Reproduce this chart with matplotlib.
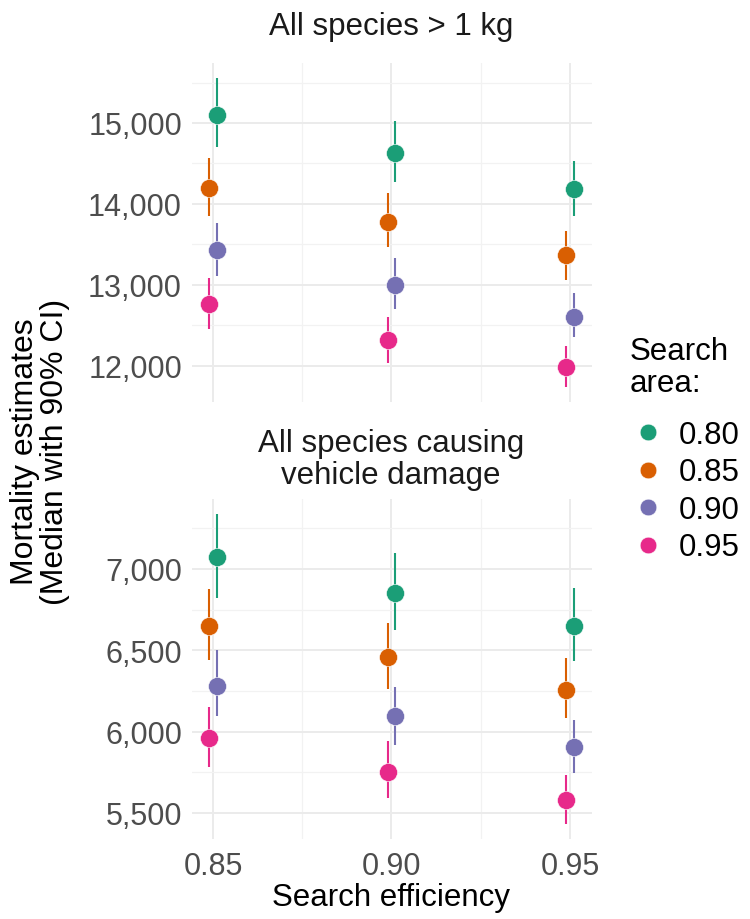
import matplotlib
matplotlib.use("Agg")
import matplotlib.pyplot as plt
from matplotlib.ticker import FuncFormatter, MultipleLocator
from matplotlib.lines import Line2D

plt.rcParams['font.family'] = ['Liberation Sans', 'DejaVu Sans']

efficiency = [0.85, 0.90, 0.95]
areas = ["0.80", "0.85", "0.90", "0.95"]
colors = ["#1B9E77", "#D95F02", "#7570B3", "#E7298A"]
dodge = [0.001, -0.001, 0.001, -0.001]

panel_titles = ["All species > 1 kg", "All species causing\nvehicle damage"]

# panel 1: All species > 1 kg  (rows = search area, cols = efficiency)
p1_med = [[15100, 14625, 14185],
          [14198, 13778, 13367],
          [13432, 13000, 12605],
          [12765, 12321, 11988]]
p1_lo = [[14700, 14268, 13856],
         [13856, 13465, 13065],
         [13115, 12704, 12350],
         [12457, 12033, 11733]]
p1_hi = [[15555, 15025, 14535],
         [14568, 14132, 13670],
         [13762, 13330, 12901],
         [13086, 12605, 12247]]

# panel 2: All species causing vehicle damage
p2_med = [[7072, 6851, 6648],
          [6648, 6459, 6256],
          [6281, 6098, 5904],
          [5963, 5750, 5580]]
p2_lo = [[6822, 6623, 6435],
         [6443, 6263, 6082],
         [6098, 5918, 5746],
         [5785, 5590, 5432]]
p2_hi = [[7338, 7097, 6884],
         [6879, 6668, 6453],
         [6500, 6273, 6072],
         [6150, 5941, 5734]]

W, H = 750, 920
fig = plt.figure(figsize=(W / 100, H / 100), dpi=100)

def px_axes(x0, y0, x1, y1):
    return fig.add_axes([x0 / W, 1 - y1 / H, (x1 - x0) / W, (y1 - y0) / H])

ax1 = px_axes(191.7, 64, 592, 403)
ax2 = px_axes(191.7, 500, 592, 840)

panels = [
    (ax1, p1_med, p1_lo, p1_hi, (11552, 15741), 1000, 500),
    (ax2, p2_med, p2_lo, p2_hi, (5340, 7430), 500, 250),
]

FS = 22
tick_color = "#4D4D4D"
for ax, med, lo, hi, ylim, major, minor in panels:
    for i in range(len(areas)):
        xs = [e + dodge[i] for e in efficiency]
        ax.vlines(xs, lo[i], hi[i], color=colors[i], lw=1.5, zorder=3)
        ax.plot(xs, med[i], 'o', color=colors[i], ms=13, mec='white', mew=0.4, zorder=4)
    ax.set_xlim(0.84404, 0.95616)
    ax.set_ylim(*ylim)
    ax.set_xticks(efficiency)
    ax.xaxis.set_minor_locator(MultipleLocator(0.025))
    ax.yaxis.set_major_locator(MultipleLocator(major))
    ax.yaxis.set_minor_locator(MultipleLocator(minor))
    ax.grid(which='major', color='#EBEBEB', lw=1.4, zorder=0)
    ax.grid(which='minor', color='#F2F2F2', lw=0.9, zorder=0)
    ax.set_axisbelow(True)
    for s in ax.spines.values():
        s.set_visible(False)
    ax.tick_params(which='both', length=0, labelsize=FS, colors=tick_color)
    ax.tick_params(axis='y', pad=7)
    ax.tick_params(axis='x', pad=9)
    ax.yaxis.set_major_formatter(FuncFormatter(lambda v, p: f"{int(round(v)):,}"))
    ax.xaxis.set_major_formatter(FuncFormatter(lambda v, p: f"{v:.2f}"))

ax1.tick_params(axis='x', labelbottom=False)

fig.text(391 / W, 1 - 27 / H, panel_titles[0], ha='center', va='center', fontsize=22.5, color='#1A1A1A')
fig.text(391 / W, 1 - 460 / H, panel_titles[1], ha='center', va='center', fontsize=22.5,
         color='#1A1A1A', linespacing=1.12)

fig.text(391 / W, 1 - 898 / H, "Search efficiency", ha='center', va='center', fontsize=22.5, color='black')
fig.text(40 / W, 1 - 452 / H, "Mortality estimates\n(Median with 90% CI)", ha='center', va='center',
         rotation=90, fontsize=23, color='black', linespacing=1.02)

# legend
fig.text(630 / W, 1 - 368 / H, "Search\narea:", ha='left', va='center', fontsize=22.5, color='black',
         linespacing=1.05)
handles = [Line2D([], [], ls='none', marker='o', color=c, ms=12, mec='white', mew=0.4) for c in colors]
leg = fig.legend(handles, areas, loc='upper left', bbox_to_anchor=(632 / W, 1 - 421 / H),
                 frameon=False, fontsize=22.5, handletextpad=0.5, labelspacing=0.24,
                 borderaxespad=0, borderpad=0, handlelength=1.0)

fig.savefig("out.png", dpi=100)
